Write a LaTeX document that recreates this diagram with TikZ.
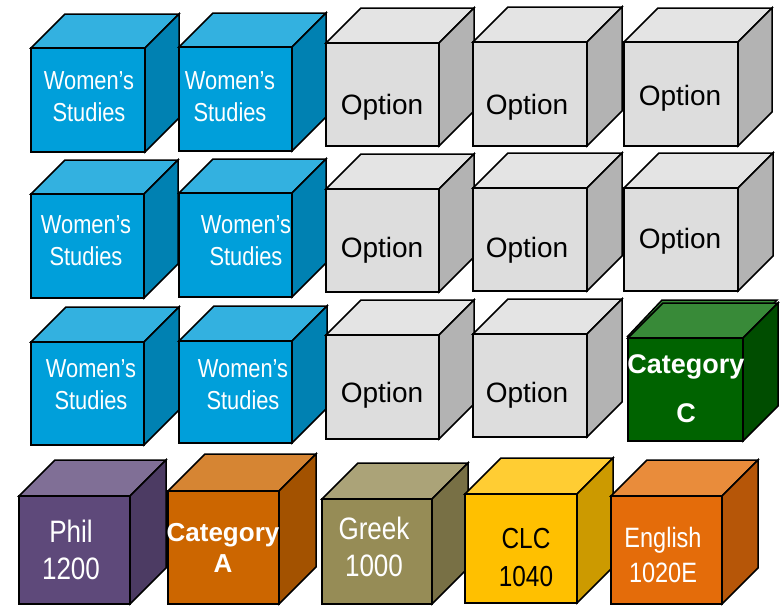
\documentclass[tikz,border=0pt]{standalone}
\usepackage{fontspec}
\setmainfont{Liberation Sans}
\newfontfamily\narrowsf{Liberation Sans}[FakeStretch=0.84]

\definecolor{wsfront}{RGB}{0,159,218}
\definecolor{wstop}{RGB}{51,177,224}
\definecolor{wsside}{RGB}{0,129,178}
\definecolor{optfront}{RGB}{221,221,221}
\definecolor{opttop}{RGB}{228,228,228}
\definecolor{optside}{RGB}{179,179,179}
\definecolor{catcfront}{RGB}{0,99,0}
\definecolor{catctop}{RGB}{56,138,56}
\definecolor{catcside}{RGB}{0,77,0}
\definecolor{philfront}{RGB}{94,73,122}
\definecolor{philtop}{RGB}{128,111,150}
\definecolor{philside}{RGB}{76,59,99}
\definecolor{catafront}{RGB}{204,102,0}
\definecolor{catatop}{RGB}{214,133,51}
\definecolor{cataside}{RGB}{163,82,0}
\definecolor{greekfront}{RGB}{150,140,86}
\definecolor{greektop}{RGB}{171,163,120}
\definecolor{greekside}{RGB}{120,112,69}
\definecolor{clcfront}{RGB}{255,192,0}
\definecolor{clctop}{RGB}{255,205,51}
\definecolor{clcside}{RGB}{204,154,0}
\definecolor{engfront}{RGB}{228,108,10}
\definecolor{engtop}{RGB}{233,140,59}
\definecolor{engside}{RGB}{182,86,8}

% left, top, right, bottom, depth, colour
\newcommand{\boxcube}[6]{%
	\filldraw[fill=#6top] (#1,#2) -- (#1+#5,#2-#5) -- (#3+#5,#2-#5) -- (#3,#2) -- cycle;
	\filldraw[fill=#6side] (#3,#2) -- (#3+#5,#2-#5) -- (#3+#5,#4-#5) -- (#3,#4) -- cycle;
	\filldraw[fill=#6front] (#1,#2) rectangle (#3,#4);
}

\tikzset{
	wstext/.style={text=white, align=center, font=\narrowsf\fontsize{26}{32}\selectfont},
	opttext/.style={text=black, font=\fontsize{28}{32}\selectfont},
	cattext/.style={text=white, align=center, font=\bfseries\fontsize{26}{31}\selectfont},
	coursetext/.style={align=center, font=\narrowsf\fontsize{31}{37}\selectfont},
}

\begin{document}
\begin{tikzpicture}[x=1pt, y=-1pt, line width=1.5pt]
	\useasboundingbox (0,0) rectangle (782,606);
	% row 1
	\boxcube{31}{48}{145}{152}{34}{ws}
	\boxcube{179}{47}{292}{151}{34}{ws}
	\boxcube{326}{43}{439}{146}{35}{opt}
	\boxcube{473}{42}{587}{146}{35}{opt}
	\boxcube{624}{42}{738}{146}{34}{opt}
	\node[wstext] (ws11) at (89,97) {Women’s\\Studies};
	\node[wstext] (ws12) at (230,97) {Women’s\\Studies};
	\node[opttext] (opt11) at (382,107) {Option};
	\node[opttext] (opt12) at (527,107) {Option};
	\node[opttext] (opt13) at (680,98) {Option};
	% row 2
	\boxcube{31}{194}{144}{298}{34}{ws}
	\boxcube{179}{193}{292}{297}{34}{ws}
	\boxcube{326}{189}{439}{292}{35}{opt}
	\boxcube{473}{188}{587}{291}{35}{opt}
	\boxcube{624}{188}{738}{291}{35}{opt}
	\node[wstext] (ws21) at (86,241) {Women’s\\Studies};
	\node[wstext] (ws22) at (246,241) {Women’s\\Studies};
	\node[opttext] (opt21) at (382,250) {Option};
	\node[opttext] (opt22) at (527,250) {Option};
	\node[opttext] (opt23) at (680,241) {Option};
	% row 3
	\boxcube{31}{342}{144}{445}{35}{ws}
	\boxcube{179}{341}{292}{443}{35}{ws}
	\boxcube{326}{335}{439}{439}{35}{opt}
	\boxcube{473}{334}{587}{437}{35}{opt}
	\filldraw[fill=catctop] (628,336) -- (662,300) -- (777,300) -- (743,336) -- cycle;
	\boxcube{628}{338}{743}{441}{35}{catc}
	\node[wstext] (ws31) at (91,385) {Women’s\\Studies};
	\node[wstext] (ws32) at (243,385) {Women’s\\Studies};
	\node[opttext] (opt31) at (382,395) {Option};
	\node[opttext] (opt32) at (527,395) {Option};
	\node[cattext, font=\bfseries\fontsize{27}{49}\selectfont] (catc) at (686,389) {Category\\C};
	% row 4
	\boxcube{19}{496}{130}{604}{36}{phil}
	\boxcube{168}{491}{279}{604}{37}{cata}
	\boxcube{322}{499}{432}{604}{36}{greek}
	\boxcube{465}{494}{577}{603}{36}{clc}
	\boxcube{611}{496}{722}{604}{36}{eng}
	\node[coursetext, text=white] (phil) at (71,550) {Phil\\1200};
	\node[cattext] (cata) at (223,548) {Category\\A};
	\node[coursetext, text=white] (greek) at (374,547) {Greek\\1000};
	\node[coursetext, text=black, font=\narrowsf\fontsize{29}{38}\selectfont] (clc) at (526,558) {CLC\\1040};
	\node[coursetext, text=white, font=\narrowsf\fontsize{28}{35}\selectfont] (eng) at (663,555) {English\\1020E};
\end{tikzpicture}
\end{document}
